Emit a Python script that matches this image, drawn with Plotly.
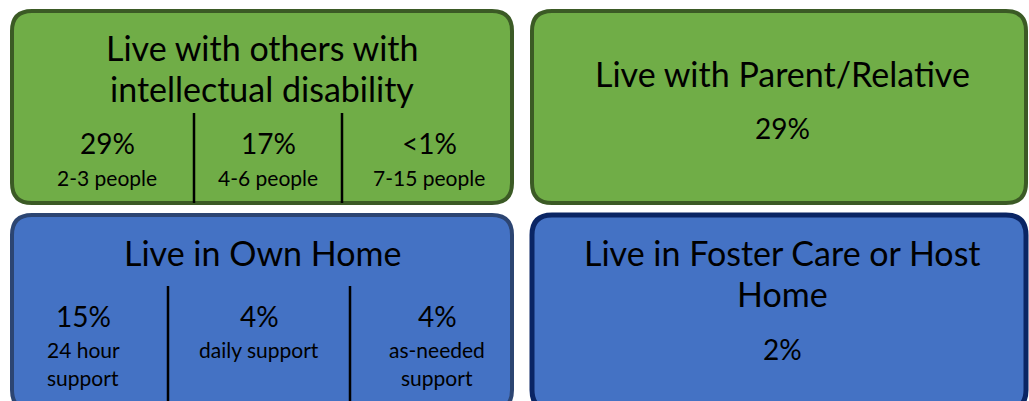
import plotly.graph_objects as go

# Living-arrangement groups
group_titles = [
    "Live with others with<br>intellectual disability",
    "Live with Parent/Relative",
    "Live in Own Home",
    "Live in Foster Care or Host<br>Home",
]
group_pcts = [None, "29%", None, "2%"]

# Breakdown inside the two split groups
shared_pcts = ["29%", "17%", "<1%"]
shared_labels = ["2-3 people", "4-6 people", "7-15 people"]
own_pcts = ["15%", "4%", "4%"]
own_labels = ["24 hour<br>support", "daily support", "as-needed<br>support"]

W, H = 1029, 401
FONT = "Lato"
GREEN, GREEN_EDGE = "#70AD47", "#3B5A25"
BLUE, BLUE_EDGE, NAVY_EDGE = "#4472C4", "#2C4572", "#0A2564"


def rounded(x0, y0, x1, y1, r):
    return (f"M {x0+r},{y0} L {x1-r},{y0} Q {x1},{y0} {x1},{y0+r} "
            f"L {x1},{y1-r} Q {x1},{y1} {x1-r},{y1} L {x0+r},{y1} "
            f"Q {x0},{y1} {x0},{y1-r} L {x0},{y0+r} Q {x0},{y0} {x0+r},{y0} Z")


boxes = [
    (12, 11, 512, 203, GREEN, GREEN_EDGE, 4),
    (532, 11, 1026, 203, GREEN, GREEN_EDGE, 4),
    (12, 215, 512, 410, BLUE, BLUE_EDGE, 4),
    (532, 215, 1026, 410, BLUE, NAVY_EDGE, 5),
]

shapes = []
for x0, y0, x1, y1, fill, edge, lw in boxes:
    shapes.append(dict(type="path", path=rounded(x0, y0, x1, y1, 20),
                       fillcolor=fill, line=dict(color=edge, width=lw),
                       xref="x", yref="y", layer="below"))

# column dividers
for xd in (194, 342):
    shapes.append(dict(type="line", x0=xd, x1=xd, y0=113, y1=203,
                       line=dict(color="black", width=2.5), xref="x", yref="y"))
for xd in (168, 350):
    shapes.append(dict(type="line", x0=xd, x1=xd, y0=286, y1=410,
                       line=dict(color="black", width=2.5), xref="x", yref="y"))

ann = []


def txt(x, y, t, size):
    ann.append(dict(x=x, y=y, text=t, showarrow=False, xref="x", yref="y",
                    xanchor="center", yanchor="middle",
                    font=dict(family=FONT, size=size, color="black")))


def lines(x, y, t, size, gap):
    for i, part in enumerate(t.split("<br>")):
        txt(x, y + i * gap, part, size)


title_pos = [(262, 47), (782, 73), (262, 252), (782, 252)]
for (x, y), t in zip(title_pos, group_titles):
    lines(x, y, t, 34, 41)

txt(782, 128, group_pcts[1], 28)
txt(782, 349, group_pcts[3], 28)

for x, p, lab in zip((107, 268, 429), shared_pcts, shared_labels):
    txt(x, 143, p, 28)
    txt(x, 177, lab, 21)

for x, p, lab in zip((83, 259, 437), own_pcts, own_labels):
    txt(x, 316, p, 28)
    lines(x, 349, lab, 21, 28)

fig = go.Figure()
fig.update_layout(
    width=W, height=H, margin=dict(l=0, r=0, t=0, b=0),
    paper_bgcolor="white", plot_bgcolor="white",
    xaxis=dict(range=[0, W], visible=False, fixedrange=True),
    yaxis=dict(range=[H, 0], visible=False, fixedrange=True),
    shapes=shapes, annotations=ann, showlegend=False,
)
fig.write_html("out.html", config={"displayModeBar": False})
